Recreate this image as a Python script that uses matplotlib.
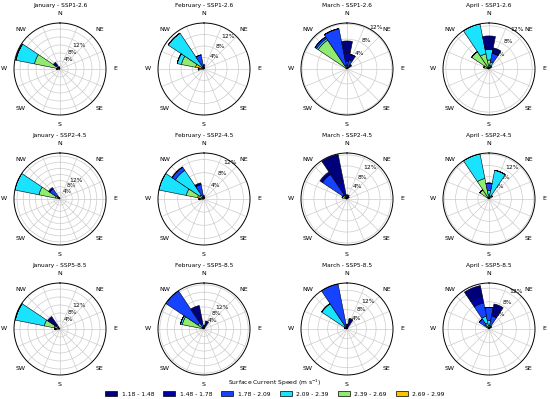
import numpy as np
import matplotlib.pyplot as plt
from matplotlib.patches import Patch

# 16 compass sectors, clockwise from north
directions = ["N", "NNE", "NE", "ENE", "E", "ESE", "SE", "SSE",
              "S", "SSW", "SW", "WSW", "W", "WNW", "NW", "NNW"]

speed_bins = ["1.18 - 1.48", "1.48 - 1.78", "1.78 - 2.09",
              "2.09 - 2.39", "2.39 - 2.69", "2.69 - 2.99"]
bin_colors = ["#00007a", "#0000a6", "#1543ff", "#19e3ff", "#8fec70", "#ffc400"]

months = ["January", "February", "March", "April"]
scenarios = ["SSP1-2.6", "SSP2-4.5", "SSP5-8.5"]

# frequency (%) per sector, values in speed_bins order
jan_126 = {"WNW": [0, 0, 0, 9.5, 12, 1], "NW": [1.5, 0, 1.5, 0.5, 0.5, 0],
           "W": [0, 0, 0, 0, 1, 0.5], "NNW": [1.2, 0, 0, 0, 0, 0]}
feb_126 = {"NW": [0, 0, 0, 14, 0.7, 0.3], "WNW": [0, 0, 0, 1.5, 5, 3],
           "W": [0, 0, 0, 0, 0.5, 1.5], "NNW": [0, 0, 4, 0.7, 0.3, 0],
           "N": [1.5, 0, 0, 0, 0, 0], "NNE": [0.5, 0, 0, 0, 0, 0]}
mar_126 = {"NW": [0, 0, 0.5, 0.5, 9, 0.3], "NNW": [0, 0, 10, 0.5, 0.5, 0],
           "N": [3, 2.5, 1, 1, 0, 0], "NNE": [0, 1.5, 2, 0.5, 0, 0],
           "NE": [1.5, 0, 0, 0, 0, 0]}
apr_126 = {"NNW": [0, 0, 0, 8.5, 4, 0.3], "NW": [0, 0, 0, 0, 5.5, 0.3],
           "WNW": [0, 0, 0, 0, 1, 0.5], "N": [3.7, 0, 0, 3, 2.5, 0],
           "NNE": [1.5, 0, 2.5, 1, 1, 0], "NE": [1, 0, 0, 0, 0, 0]}

jan_245 = {"WNW": [0, 0, 0, 16, 11, 3], "NW": [1, 0, 6, 1, 1, 0],
           "NNW": [1, 0, 0, 0, 0, 0]}
feb_245 = {"WNW": [0, 0, 0, 8.5, 3.5, 2], "NW": [0, 0, 1.2, 9, 1, 0.5],
           "NNW": [0.5, 0, 3.5, 0.5, 0.5, 0], "N": [1, 0, 0, 0, 0, 0],
           "NNE": [0.5, 0, 0, 0, 0, 0], "W": [0, 0, 0, 0, 0.5, 1]}
mar_245 = {"NNW": [10, 5, 1, 0, 0.5, 0], "NW": [1, 0, 9, 0.3, 1.5, 0],
           "WNW": [0, 0, 0, 0, 1.5, 0.3], "N": [1.5, 0, 0, 0, 0, 0],
           "NNE": [1.5, 0, 0, 0, 0, 0], "NE": [1, 0, 0, 0, 0, 0]}
apr_245 = {"NNW": [0, 0, 0, 9, 7, 0.5], "NW": [0, 0, 0, 0, 3.5, 0.5],
           "N": [0, 0, 2.7, 1.5, 1.5, 0], "NNE": [0, 0, 0, 9.5, 1, 0],
           "NE": [0, 0, 0, 1.5, 0, 0]}

jan_585 = {"WNW": [0, 0, 0, 14.8, 5, 3], "NW": [5, 0, 1, 0.5, 1, 0],
           "W": [0, 0, 0, 0, 0.5, 2]}
feb_585 = {"NW": [0, 0, 21, 3, 1, 0], "WNW": [0, 0, 0, 1, 11, 1],
           "NNW": [7, 3, 2, 1, 0, 0], "NNE": [4.5, 0, 0, 0, 0, 0],
           "N": [2, 0, 0, 0, 0, 0]}
mar_585 = {"NNW": [0, 0, 18, 0.5, 0.5, 0], "NW": [0, 0, 0, 11.3, 1, 0.3],
           "NNE": [4, 0, 0.5, 0, 0, 0], "N": [2, 0, 0, 0, 0, 0],
           "WNW": [0, 0, 0, 0, 1, 0]}
apr_585 = {"NNW": [3.2, 2, 4, 2, 1.5, 0.3], "NW": [0, 0, 2, 0.5, 1, 0],
           "N": [0, 0, 3.8, 1.5, 1, 0], "NNE": [3.5, 0, 3, 0.5, 0.5, 0],
           "NE": [1, 0, 0, 0, 0, 0]}

roses = [[jan_126, feb_126, mar_126, apr_126],
         [jan_245, feb_245, mar_245, apr_245],
         [jan_585, feb_585, mar_585, apr_585]]
rmax = [[23, 16, 12.3, 12.8],
        [30, 14, 16.7, 16.5],
        [23, 25, 19, 13.5]]

W, H = 550, 399
fig = plt.figure(figsize=(W / 100, H / 100), dpi=100)

col_x = [60, 204, 347, 489]
row_y = [69, 199, 329]
rad = 46

theta = np.deg2rad(np.arange(16) * 22.5)
width = 2 * np.pi / 16

for i, scen in enumerate(scenarios):
    for j, month in enumerate(months):
        rect = [(col_x[j] - rad) / W, 1 - (row_y[i] + rad) / H, 2 * rad / W, 2 * rad / H]
        ax = fig.add_axes(rect, projection="polar")
        ax.set_theta_zero_location("N")
        ax.set_theta_direction(-1)

        data = roses[i][j]
        table = np.zeros((6, 16))
        for d, vals in data.items():
            table[:, directions.index(d)] = vals
        # highest speed class sits at the centre
        bottom = np.zeros(16)
        for k in range(5, -1, -1):
            ax.bar(theta, table[k], width=width, bottom=bottom, color=bin_colors[k],
                   edgecolor="black", linewidth=0.4, zorder=3)
            bottom += table[k]

        ax.set_ylim(0, rmax[i][j])
        ticks = np.arange(4, rmax[i][j], 4)
        labels = ["%d%%" % t if t <= 12 else "" for t in ticks]
        ax.set_yticks(ticks)
        ax.set_yticklabels(labels, fontsize=4.3)
        ax.set_rlabel_position(30)
        ax.set_thetagrids(np.arange(16) * 22.5,
                          ["N", "", "NE", "", "E", "", "SE", "", "S", "", "SW", "", "W", "", "NW", ""],
                          fontsize=4.5)
        ax.tick_params(axis="x", pad=-3.5)
        ax.grid(color="#cccccc", linewidth=0.5)
        ax.spines["polar"].set_linewidth(0.7)
        ax.text(0.5, 1.185, f"{month} - {scen}", transform=ax.transAxes,
                ha="center", va="center", fontsize=4.2)

handles = [Patch(facecolor=c, edgecolor="black", linewidth=0.5) for c in bin_colors]
fig.legend(handles, speed_bins, loc="lower center", bbox_to_anchor=(0.5, -0.005), ncol=6,
           title="Surface Current Speed (m s$^{-1}$)", fontsize=4.3, title_fontsize=4.3,
           frameon=False, handlelength=2.0, handleheight=0.8, columnspacing=1.5, borderpad=0.2)

fig.savefig("out.png", dpi=100)
